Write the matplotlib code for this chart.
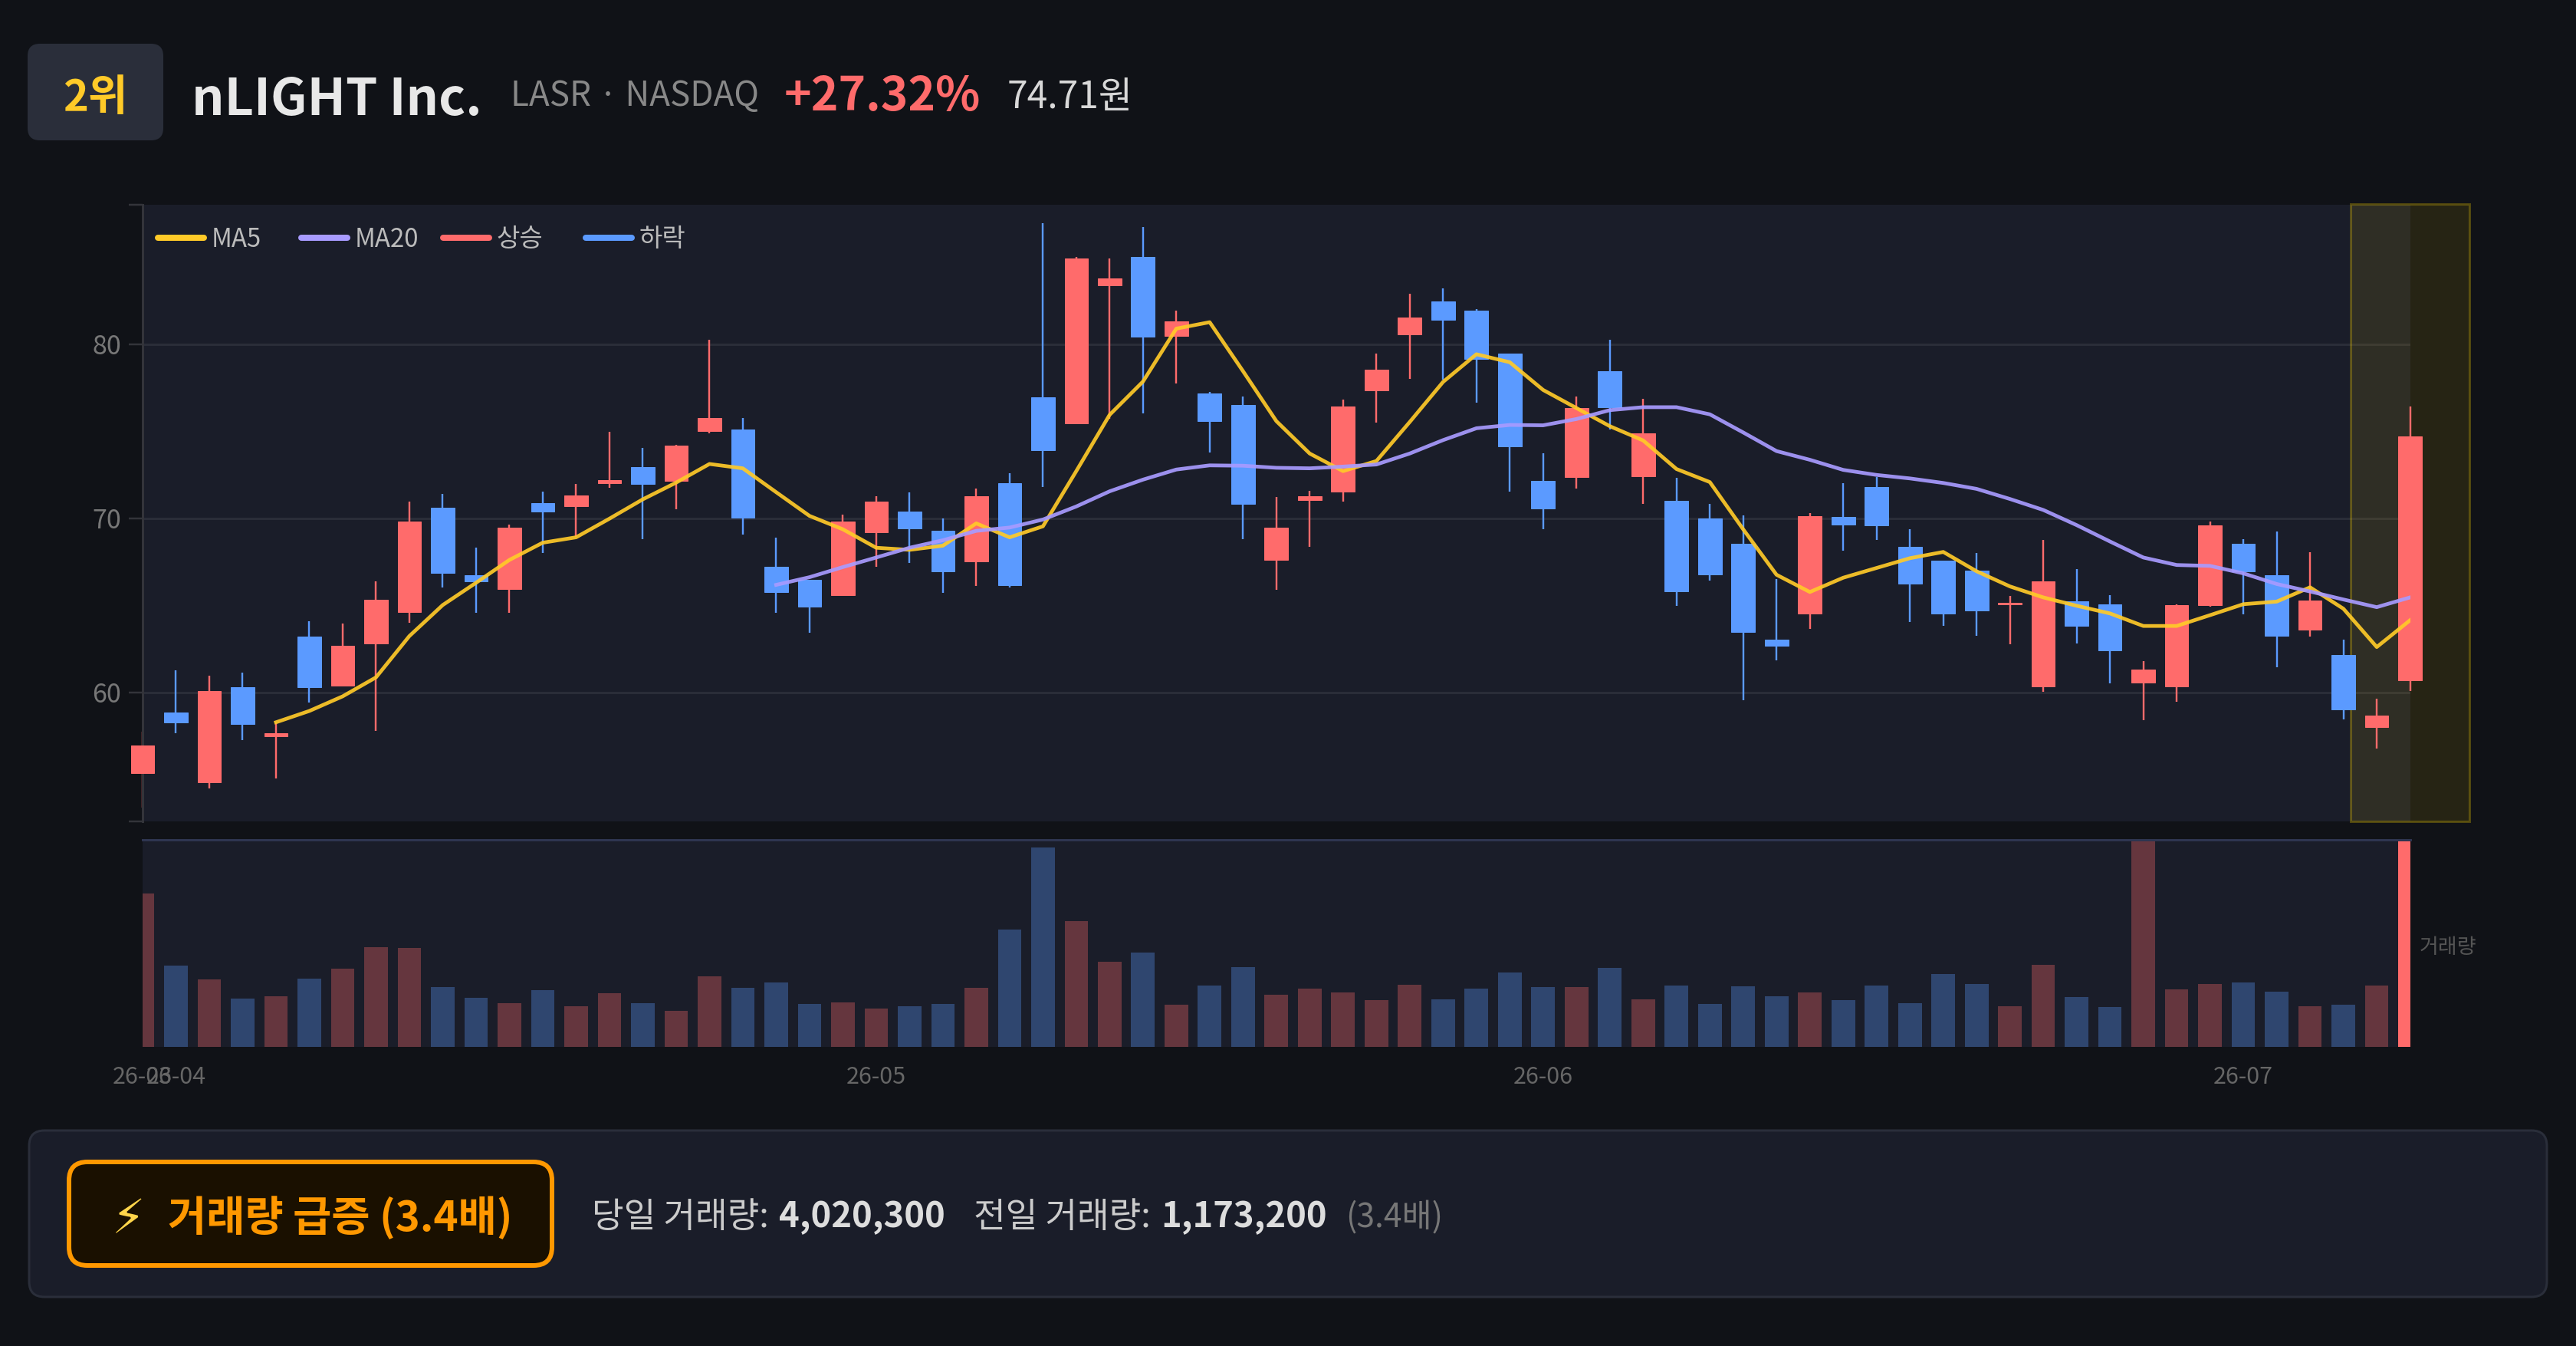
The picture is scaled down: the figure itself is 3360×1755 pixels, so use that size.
import numpy as np
import matplotlib
matplotlib.use("Agg")
import matplotlib.pyplot as plt
from matplotlib.patches import FancyBboxPatch
from matplotlib.lines import Line2D
from matplotlib.transforms import IdentityTransform

W, H = 3360, 1755
FONT = ['Noto Sans CJK KR', 'DejaVu Sans']
plt.rcParams['font.family'] = FONT

opens = [55.39,58.84,54.83,60.31,57.49,63.21,60.39,62.80,64.64,70.63,66.74,65.94,70.87,70.68,72.00,72.95,72.13,75.00,75.12,67.22,66.47,65.60,69.20,
         70.39,69.28,67.51,72.00,76.93,75.46,83.38,85.02,80.46,77.17,76.52,67.63,71.06,71.52,77.34,80.58,82.46,81.93,79.44,72.13,72.37,78.43,72.42,71.01,
         69.98,68.55,63.04,64.52,70.07,71.79,68.38,67.56,66.98,65.07,60.36,65.22,65.05,60.58,60.36,65.02,68.53,66.74,63.60,62.15,58.00,60.70]
closes = [56.98,58.29,60.07,58.19,57.68,60.31,62.68,65.31,69.81,66.86,66.40,69.47,70.41,71.30,72.20,71.98,74.18,75.75,70.02,65.77,64.95,69.81,70.97,
          69.40,66.96,71.26,66.18,73.89,84.93,83.79,80.41,81.30,75.60,70.82,69.47,71.28,76.40,78.53,81.52,81.38,79.15,74.11,70.58,76.33,76.38,74.86,65.82,
          66.79,63.48,62.68,70.14,69.64,69.61,66.26,64.54,64.71,65.17,66.40,63.82,62.42,61.33,65.00,69.59,66.96,63.24,65.27,59.01,58.68,74.71]
highs = [57.73,61.26,60.97,61.14,58.29,64.11,63.96,66.38,70.97,71.38,68.33,69.64,71.55,71.96,74.95,74.06,74.23,80.27,75.75,68.91,66.47,70.19,71.26,
         71.50,70.00,71.69,72.61,86.93,85.00,84.93,86.74,81.93,77.25,76.98,71.21,71.59,76.81,79.44,82.90,83.19,82.00,79.44,73.74,76.98,80.27,76.88,72.34,
         70.82,70.17,66.50,70.31,72.00,72.39,69.37,67.56,67.99,65.53,68.77,67.10,65.58,61.79,65.07,69.81,68.79,69.23,68.04,63.04,59.64,76.40]
lows = [53.38,57.66,54.49,57.25,55.07,59.42,60.39,57.80,64.01,66.04,64.59,64.59,68.00,68.94,71.74,68.79,70.53,74.88,69.06,64.59,63.41,65.60,67.20,
        67.42,65.70,66.11,66.01,71.79,75.46,75.72,76.04,77.75,73.79,68.82,65.89,68.38,70.97,75.48,78.00,77.95,76.62,71.55,69.37,71.71,75.10,70.82,64.98,
        66.43,59.57,61.84,63.65,68.16,68.74,64.03,63.84,63.24,62.78,60.02,62.80,60.51,58.41,59.47,64.95,64.49,61.47,63.19,58.45,56.79,60.10]
ma5_values = [58.29,58.94,59.78,60.87,63.24,65.02,66.30,67.61,68.60,68.91,69.98,71.09,72.05,73.12,72.87,71.50,70.14,69.37,68.31,68.19,68.43,69.71,68.91,
              69.54,72.71,75.94,77.85,80.89,81.26,78.45,75.58,73.72,72.71,73.29,75.53,77.83,79.42,78.96,77.37,76.33,75.29,74.47,72.83,72.08,69.37,66.76,65.77,
              66.59,67.15,67.71,68.07,66.96,66.09,65.46,64.98,64.54,63.82,63.82,64.44,65.07,65.22,66.04,64.81,62.61,64.15]
ma20_values = [66.18,66.62,67.20,67.75,68.31,68.74,69.28,69.47,69.93,70.68,71.55,72.22,72.80,73.04,73.02,72.90,72.87,72.97,73.09,73.72,74.49,75.17,75.36,
               75.34,75.70,76.21,76.38,76.38,75.97,74.93,73.86,73.36,72.78,72.49,72.29,72.03,71.69,71.11,70.48,69.61,68.67,67.75,67.32,67.27,66.84,66.23,65.80,65.34,64.90,65.46]
volumes = [2921,1543,1285,915,959,1300,1485,1903,1884,1134,935,837,1086,769,1017,828,691,1344,1129,1227,813,847,725,
           769,813,1125,2239,3797,2395,1621,1801,808,1163,1514,998,1110,1042,886,1183,905,1105,1417,1144,1134,1509,901,1168,
           813,1159,964,1032,891,1163,828,1383,1198,769,1563,949,755,4300,1100,1202,1222,1047,774,798,1173.2,4020.3]
xtick_positions = [0, 1, 22, 42, 63]
xtick_labels = ['26-03', '26-04', '26-05', '26-06', '26-07']
ytick_values = [60, 70, 80]

BG = '#101217'; PANEL = '#1a1d29'; UP = '#ff6b6b'; DOWN = '#5b9aff'
GOLD = '#ffca28'; VIOLET = '#a89bff'; ORANGE = '#ff9800'

def pt(px):
    return px * 0.72

def box(l, t, r, b):
    return [l / W, 1 - b / H, (r - l) / W, (b - t) / H]

fig = plt.figure(figsize=(W / 100, H / 100), dpi=100, facecolor=BG)

# page furniture in pixel coordinates
page = fig.add_axes([0, 0, 1, 1], zorder=-1)
page.set_xlim(0, W); page.set_ylim(H, 0); page.axis('off')

def rbox(l, t, r, b, rad, fc, ec='none', lw=0):
    page.add_patch(FancyBboxPatch((l + rad, t + rad), r - l - 2 * rad, b - t - 2 * rad,
                                  boxstyle=f'round,pad={rad},rounding_size={rad}',
                                  fc=fc, ec=ec, lw=pt(lw)))

def label(x, y, s, size, color, weight='normal', ha='left'):
    page.text(x, y, s, fontsize=pt(size), color=color, fontweight=weight, ha=ha, va='baseline')

rbox(36, 57, 213, 183, 16, '#2a2e3a')
label(124, 144, '2위', 56, GOLD, 'bold', 'center')
label(250, 150, 'nLIGHT Inc.', 66.5, '#e8e8e8', 'bold')
label(666, 138, 'LASR · NASDAQ', 44, '#888888')
label(1023, 144, '+27.32%', 60.5, UP, 'bold')
label(1314, 141, '74.71원', 48, '#d8d8d8')

rbox(38, 1474, 3322, 1691, 20, PANEL, '#2a2e3a', 3)
rbox(90, 1515, 720, 1650, 24, '#1a1000', ORANGE, 6)
page.text(168, 1608, '⚡', fontsize=pt(62), color='#ffd54a', ha='center', va='baseline', family='DejaVu Sans')
label(219, 1605, '거래량 급증 (3.4배)', 54.6, ORANGE, 'bold')
label(772, 1600, '당일 거래량:', 45.3, '#cccccc')
label(1016, 1600, '4,020,300', 45.3, '#dddddd', 'bold')
label(1270, 1600, '전일 거래량:', 45.3, '#cccccc')
label(1514, 1600, '1,173,200', 45.3, '#dddddd', 'bold')
label(1755, 1600, '(3.4배)', 42.5, '#777777')

# price panel
n = len(closes)
x = np.arange(n)
colors = [UP if c >= o else DOWN for o, c in zip(opens, closes)]

ax = fig.add_axes(box(186, 267, 3143.6, 1071), facecolor=PANEL)
ax.set_xlim(0, n - 1)
ax.set_ylim(52.6, 88)
ax.grid(axis='y', color='#2a2d38', lw=pt(3), zorder=1)
ax.set_axisbelow(True)
for s in ['top', 'right', 'bottom']:
    ax.spines[s].set_visible(False)
ax.spines['left'].set_color('#33343a')
ax.spines['left'].set_linewidth(pt(3))
ax.spines['left'].set_zorder(2.5)
ax.set_xticks([])
ax.set_yticks(ytick_values)
ax.set_yticks([52.6, 88], minor=True)
ax.tick_params(axis='y', which='both', length=pt(18), width=pt(2.5), color='#33343a',
               labelcolor='#777777', labelsize=pt(34), pad=pt(10))
for tick_label in ax.get_yticklabels():
    tick_label.set_y(tick_label.get_position()[1])
ax.axvspan(66.21, 69.79, ymin=0, ymax=1.001, facecolor=(1, 0.843, 0, 0.095),
           edgecolor=(1, 0.843, 0, 0.27), lw=pt(3), clip_on=False, zorder=0.6)
ax.vlines(x, lows, highs, colors=colors, lw=pt(2.4), zorder=2, clip_on=False)
ax.bar(x, np.array(closes) - np.array(opens), bottom=opens, width=0.705, color=colors,
       edgecolor=colors, lw=pt(1), zorder=3, clip_on=False)
ax.plot(np.arange(4, n), ma5_values, color=GOLD, lw=pt(4.8), alpha=0.92, zorder=4, label='MA5')
ax.plot(np.arange(19, n), ma20_values, color=VIOLET, lw=pt(4.8), alpha=0.92, zorder=4, label='MA20')

for lx, name, col in [(206, 'MA5', GOLD), (393, 'MA20', VIOLET), (578, '상승', UP), (764, '하락', DOWN)]:
    h = Line2D([], [], color=col, lw=pt(8), solid_capstyle='round')
    lg = ax.legend([h], [name], loc='center left', bbox_to_anchor=(lx, H - 312),
                   bbox_transform=IdentityTransform(), frameon=False, fontsize=pt(33), handlelength=1.83,
                   handletextpad=0.28, borderpad=0, borderaxespad=0, labelcolor='#bbbbbb')
    lg.set_zorder(6)
    ax.add_artist(lg)
ax.legend_ = None

# volume panel
axv = fig.add_axes(box(186, 1095, 3143.6, 1365), facecolor=PANEL)
axv.set_xlim(0, n - 1)
axv.set_ylim(0, 3943)
vol_alpha = [1.0 if i == n - 1 else 0.33 for i in range(n)]
axv.bar(x, volumes, width=0.705, color=colors, lw=0)
for patch, a in zip(axv.patches, vol_alpha):
    patch.set_alpha(a)
for s in ['left', 'right', 'bottom']:
    axv.spines[s].set_visible(False)
axv.spines['top'].set_color('#2e3550')
axv.spines['top'].set_linewidth(pt(3))
axv.set_yticks([])
axv.set_xticks(xtick_positions)
axv.set_xticklabels(xtick_labels)
axv.tick_params(axis='x', length=0, labelcolor='#666666', labelsize=pt(30.5), pad=pt(24))
axv.yaxis.set_label_position('right')
axv.set_ylabel('거래량', rotation=0, fontsize=pt(27), color='#555555', ha='left', va='center', labelpad=pt(12))
axv.yaxis.set_label_coords(1.0042, 0.48)

fig.savefig('out.png', dpi=100, facecolor=BG)
